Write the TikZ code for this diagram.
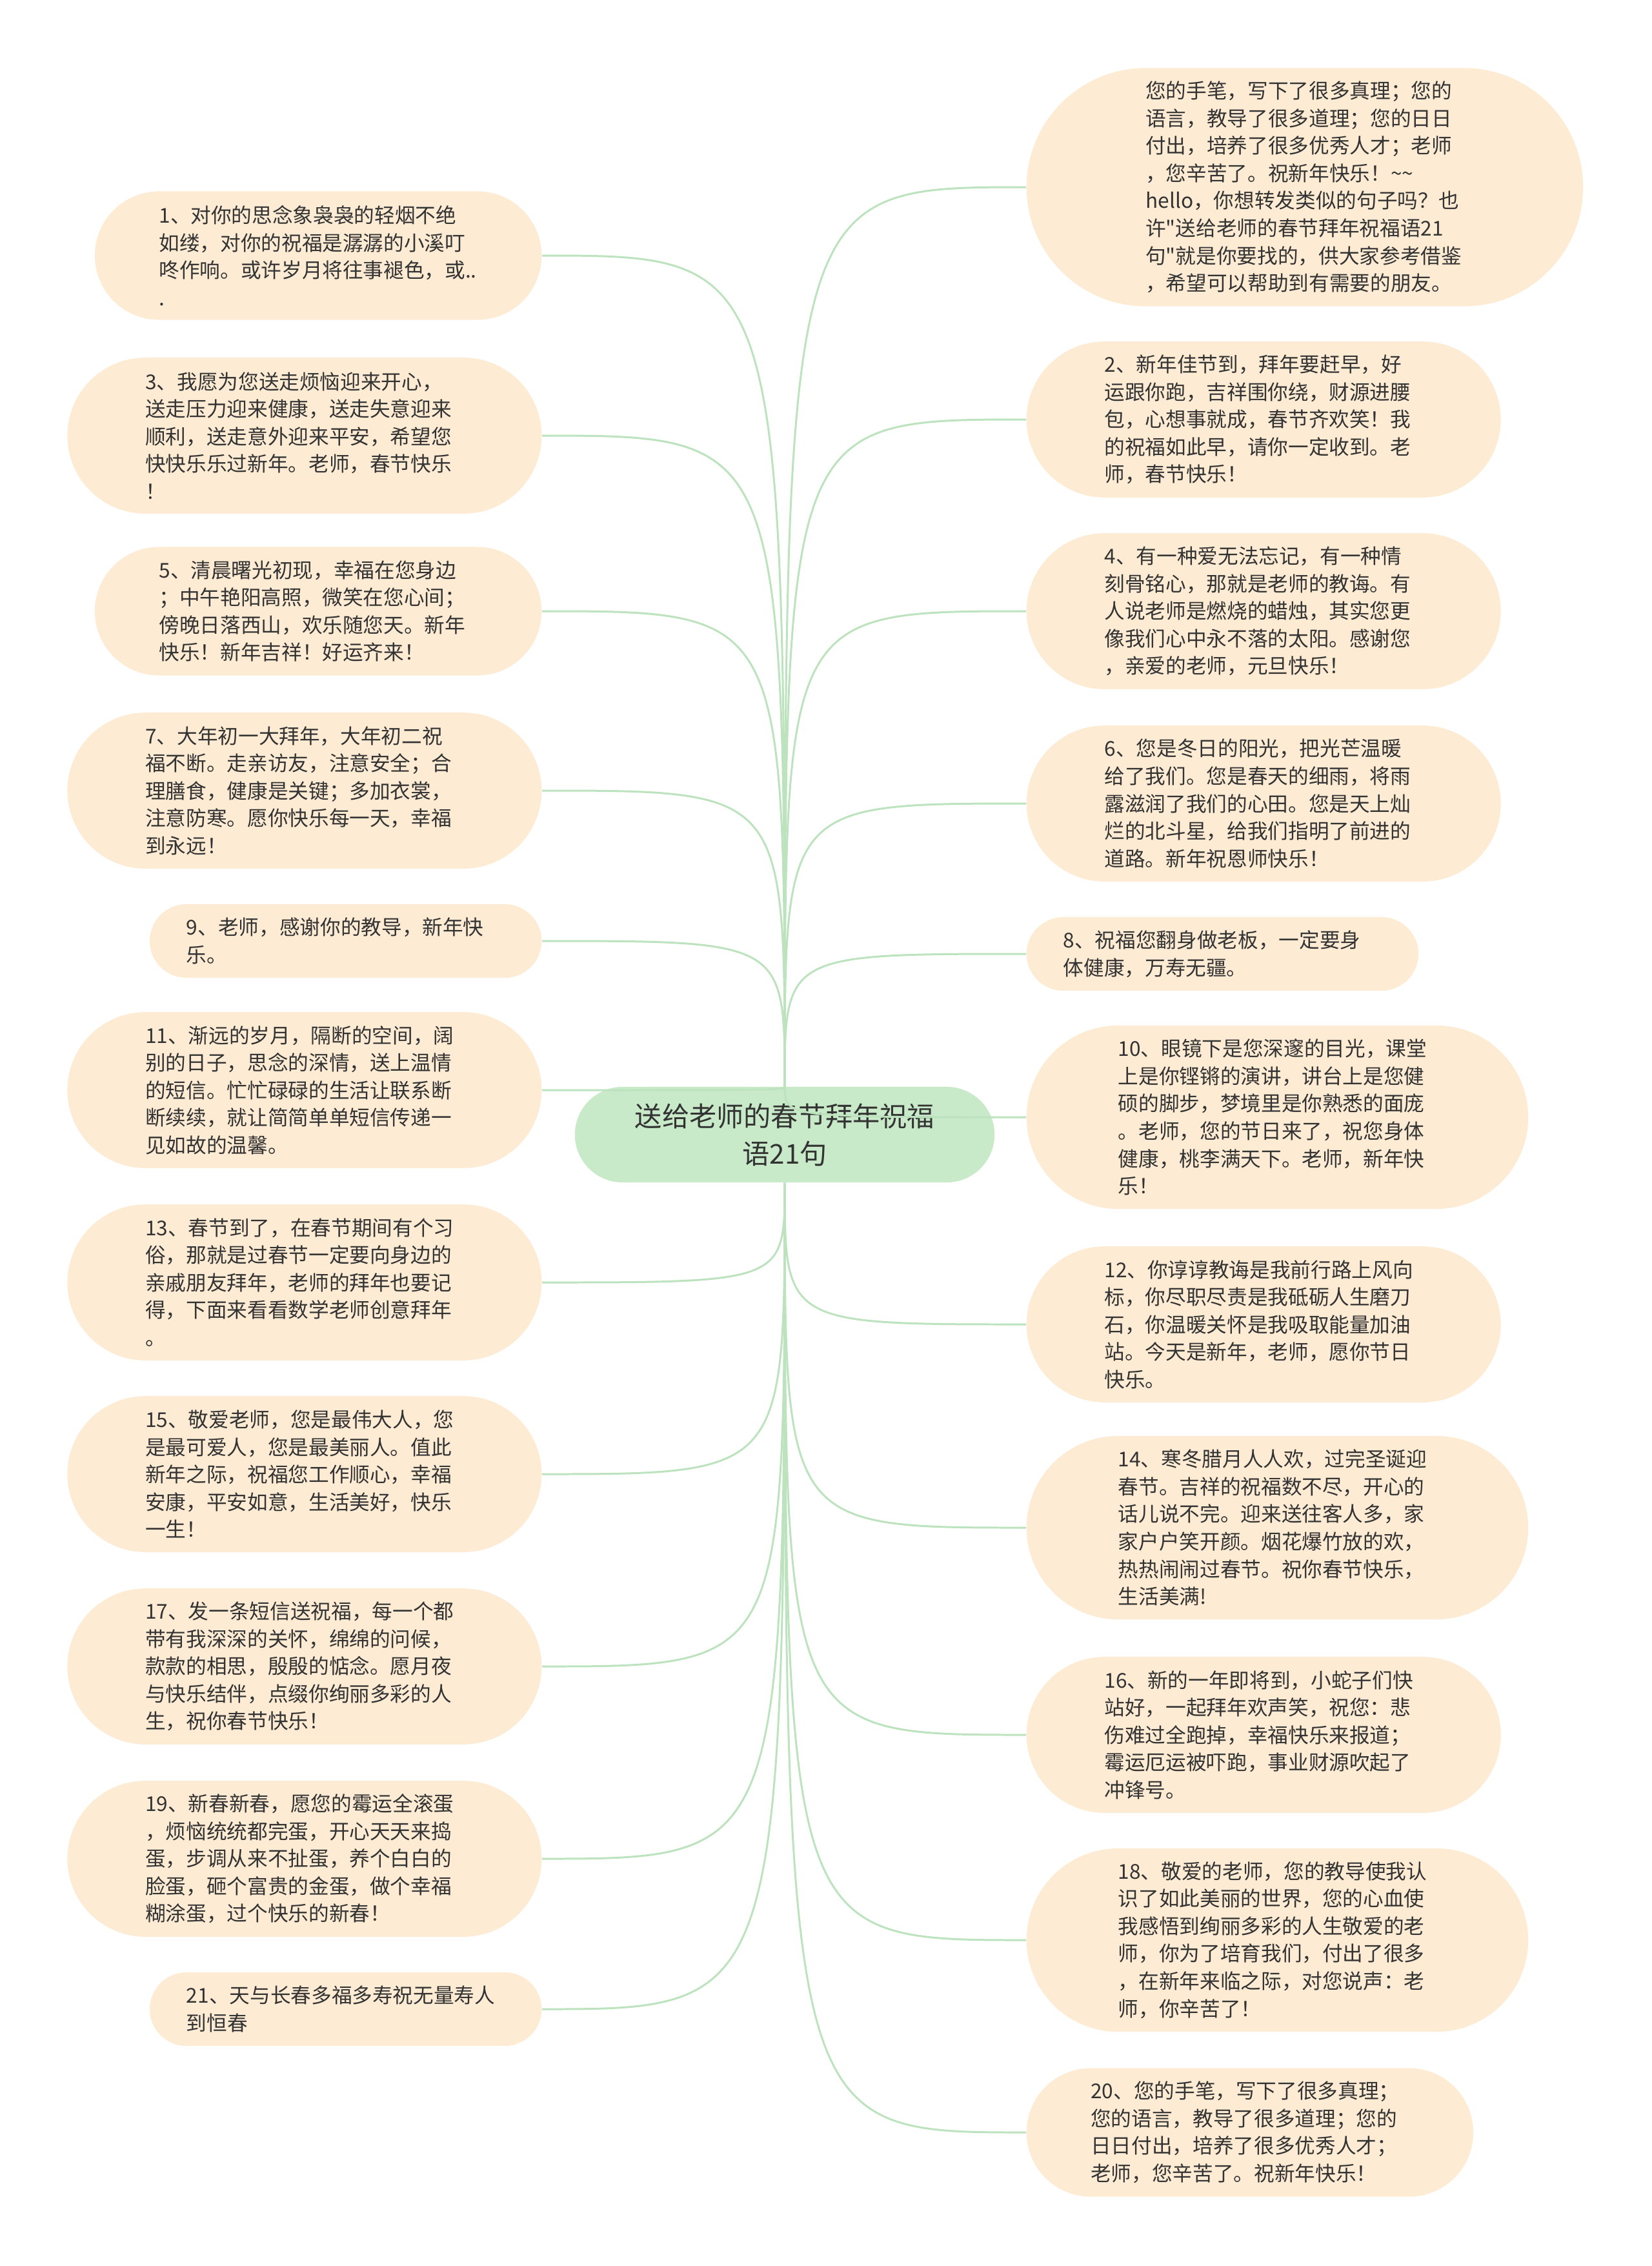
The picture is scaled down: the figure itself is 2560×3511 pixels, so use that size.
\documentclass[tikz,border=0pt]{standalone}
\usepackage{fontspec}
\newfontfamily\cjk{Noto Sans CJK SC}
\usetikzlibrary{shapes.misc}

\definecolor{leafc}{HTML}{FDEBD3}
\definecolor{topicc}{HTML}{C8EAC9}
\definecolor{linkc}{HTML}{BCE3BE}
\definecolor{txt}{HTML}{333333}

\tikzset{
  leaf/.style={rounded rectangle, fill=leafc, text=txt, inner xsep=0pt, inner ysep=0pt,
    text width=4.93cm, align=left, font=\cjk\fontsize{9}{12.1}\selectfont},
  h2/.style={leaf, minimum height=1.14cm, minimum width=6.07cm},
  h4/.style={leaf, minimum height=1.99cm, minimum width=6.92cm},
  h5/.style={leaf, minimum height=2.415cm, minimum width=7.345cm},
  h6/.style={leaf, minimum height=2.84cm, minimum width=7.77cm},
  h8/.style={leaf, minimum height=3.69cm, minimum width=8.62cm},
  topic/.style={rounded rectangle, fill=topicc, text=txt, inner xsep=0pt, inner ysep=0pt,
    minimum height=1.48cm, minimum width=6.5cm, text width=5.02cm, align=center,
    font=\cjk\fontsize{12}{16.5}\selectfont},
  link/.style={draw=linkc, line width=0.85pt,
    to path={.. controls (\tikztostart |- \tikztotarget) .. (\tikztotarget)}}
}

\begin{document}
\begin{tikzpicture}[x=0.01cm,y=-0.01cm]
\useasboundingbox (0,0) rectangle (2560,3511);

\node[topic] (title) at (1216,1758) {送给老师的春节拜年祝福\\语21句};

% left column
\node[h4,anchor=east] (w1) at (840,396) {1、对你的思念象袅袅的轻烟不绝\\如缕，对你的祝福是潺潺的小溪叮\\咚作响。或许岁月将往事褪色，或..\\.};
\node[h5,anchor=east] (w3) at (840,675) {3、我愿为您送走烦恼迎来开心，\\送走压力迎来健康，送走失意迎来\\顺利，送走意外迎来平安，希望您\\快快乐乐过新年。老师，春节快乐\\！};
\node[h4,anchor=east] (w5) at (840,947) {5、清晨曙光初现，幸福在您身边\\；中午艳阳高照，微笑在您心间；\\傍晚日落西山，欢乐随您天。新年\\快乐！新年吉祥！好运齐来！};
\node[h5,anchor=east] (w7) at (840,1225) {7、大年初一大拜年，大年初二祝\\福不断。走亲访友，注意安全；合\\理膳食，健康是关键；多加衣裳，\\注意防寒。愿你快乐每一天，幸福\\到永远！};
\node[h2,anchor=east] (w9) at (840,1458) {9、老师，感谢你的教导，新年快\\乐。};
\node[h5,anchor=east] (w11) at (840,1689) {11、渐远的岁月，隔断的空间，阔\\别的日子，思念的深情，送上温情\\的短信。忙忙碌碌的生活让联系断\\断续续，就让简简单单短信传递一\\见如故的温馨。};
\node[h5,anchor=east] (w13) at (840,1987) {13、春节到了，在春节期间有个习\\俗，那就是过春节一定要向身边的\\亲戚朋友拜年，老师的拜年也要记\\得，下面来看看数学老师创意拜年\\。};
\node[h5,anchor=east] (w15) at (840,2284) {15、敬爱老师，您是最伟大人，您\\是最可爱人，您是最美丽人。值此\\新年之际，祝福您工作顺心，幸福\\安康，平安如意，生活美好，快乐\\一生！};
\node[h5,anchor=east] (w17) at (840,2582) {17、发一条短信送祝福，每一个都\\带有我深深的关怀，绵绵的问候，\\款款的相思，殷殷的惦念。愿月夜\\与快乐结伴，点缀你绚丽多彩的人\\生，祝你春节快乐！};
\node[h5,anchor=east] (w19) at (840,2880) {19、新春新春，愿您的霉运全滚蛋\\，烦恼统统都完蛋，开心天天来捣\\蛋，步调从来不扯蛋，养个白白的\\脸蛋，砸个富贵的金蛋，做个幸福\\糊涂蛋，过个快乐的新春！};
\node[h2,anchor=east] (w21) at (840,3113) {21、天与长春多福多寿祝无量寿人\\到恒春};

% right column
\node[h8,anchor=west] (intro) at (1590,290) {您的手笔，写下了很多真理；您的\\语言，教导了很多道理；您的日日\\付出，培养了很多优秀人才；老师\\，您辛苦了。祝新年快乐！\textasciitilde\textasciitilde\\hello，你想转发类似的句子吗？也\\许"送给老师的春节拜年祝福语21\\句"就是你要找的，供大家参考借鉴\\，希望可以帮助到有需要的朋友。};
\node[h5,anchor=west] (w2) at (1590,650) {2、新年佳节到，拜年要赶早，好\\运跟你跑，吉祥围你绕，财源进腰\\包，心想事就成，春节齐欢笑！我\\的祝福如此早，请你一定收到。老\\师，春节快乐！};
\node[h5,anchor=west] (w4) at (1590,947) {4、有一种爱无法忘记，有一种情\\刻骨铭心，那就是老师的教诲。有\\人说老师是燃烧的蜡烛，其实您更\\像我们心中永不落的太阳。感谢您\\，亲爱的老师，元旦快乐！};
\node[h5,anchor=west] (w6) at (1590,1245) {6、您是冬日的阳光，把光芒温暖\\给了我们。您是春天的细雨，将雨\\露滋润了我们的心田。您是天上灿\\烂的北斗星，给我们指明了前进的\\道路。新年祝恩师快乐！};
\node[h2,anchor=west] (w8) at (1590,1478) {8、祝福您翻身做老板，一定要身\\体健康，万寿无疆。};
\node[h6,anchor=west] (w10) at (1590,1731) {10、眼镜下是您深邃的目光，课堂\\上是你铿锵的演讲，讲台上是您健\\硕的脚步，梦境里是你熟悉的面庞\\。老师，您的节日来了，祝您身体\\健康，桃李满天下。老师，新年快\\乐！};
\node[h5,anchor=west] (w12) at (1590,2052) {12、你谆谆教诲是我前行路上风向\\标，你尽职尽责是我砥砺人生磨刀\\石，你温暖关怀是我吸取能量加油\\站。今天是新年，老师，愿你节日\\快乐。};
\node[h6,anchor=west] (w14) at (1590,2367) {14、寒冬腊月人人欢，过完圣诞迎\\春节。吉祥的祝福数不尽，开心的\\话儿说不完。迎来送往客人多，家\\家户户笑开颜。烟花爆竹放的欢，\\热热闹闹过春节。祝你春节快乐，\\生活美满!};
\node[h5,anchor=west] (w16) at (1590,2688) {16、新的一年即将到，小蛇子们快\\站好，一起拜年欢声笑，祝您：悲\\伤难过全跑掉，幸福快乐来报道；\\霉运厄运被吓跑，事业财源吹起了\\冲锋号。};
\node[h6,anchor=west] (w18) at (1590,3006) {18、敬爱的老师，您的教导使我认\\识了如此美丽的世界，您的心血使\\我感悟到绚丽多彩的人生敬爱的老\\师，你为了培育我们，付出了很多\\，在新年来临之际，对您说声：老\\师，你辛苦了！};
\node[h4,anchor=west] (w20) at (1590,3304) {20、您的手笔，写下了很多真理；\\您的语言，教导了很多道理；您的\\日日付出，培养了很多优秀人才；\\老师，您辛苦了。祝新年快乐！};

% branches
\path (title) edge [link] (w1.east);
\path (title) edge [link] (w3.east);
\path (title) edge [link] (w5.east);
\path (title) edge [link] (w7.east);
\path (title) edge [link] (w9.east);
\path (title) edge [link] (w11.east);
\path (title) edge [link] (w13.east);
\path (title) edge [link] (w15.east);
\path (title) edge [link] (w17.east);
\path (title) edge [link] (w19.east);
\path (title) edge [link] (w21.east);

\path (title) edge [link] (intro.west);
\path (title) edge [link] (w2.west);
\path (title) edge [link] (w4.west);
\path (title) edge [link] (w6.west);
\path (title) edge [link] (w8.west);
\path (title) edge [link] (w10.west);
\path (title) edge [link] (w12.west);
\path (title) edge [link] (w14.west);
\path (title) edge [link] (w16.west);
\path (title) edge [link] (w18.west);
\path (title) edge [link] (w20.west);
\end{tikzpicture}
\end{document}
